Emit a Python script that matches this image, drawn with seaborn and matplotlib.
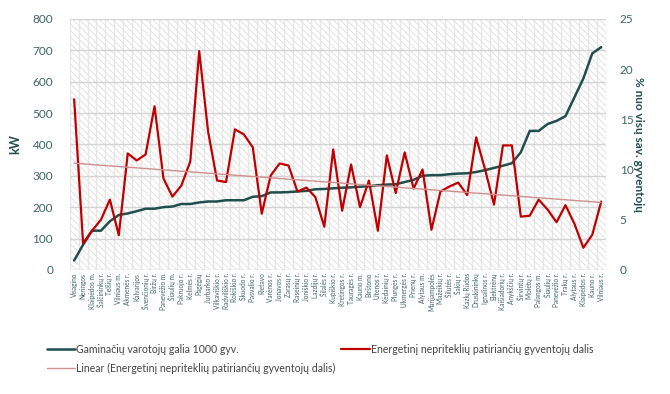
import numpy as np
import pandas as pd
import matplotlib
matplotlib.use("Agg")
import matplotlib.pyplot as plt
import seaborn as sns
from matplotlib.patches import Rectangle

municipalities = [
    "Visagino", "Neringos", "Klaipėdos m.", "Šalčininkų r.", "Telšių r.", "Vilniaus m.",
    "Akmenės r.", "Kalvarijos", "Švenčionių r.", "Biržų r.", "Panevėžio m.", "Šiaulių m.",
    "Pakruojo r.", "Kelmės r.", "Pagėgių", "Jurbarko r.", "Vilkaviškio r.", "Radviliškio r.",
    "Rokiškio r.", "Skuodo r.", "Pasvalio r.", "Rietavo", "Varėnos r.", "Jonavos r.",
    "Zarasų r.", "Raseinių r.", "Joniškio r.", "Lazdijų r.", "Šilalės r.", "Kupiškio r.",
    "Kretingos r.", "Tauragės r.", "Kauno m.", "Birštono", "Utenos r.", "Kėdainių r.",
    "Plungės r.", "Ukmergės r.", "Prienų r.", "Alytaus m.", "Marijampolės", "Mažeikių r.",
    "Šilutės r.", "Šakių r.", "Kazlų Rūdos", "Druskininkų", "Ignalinos r.", "Elektrėnų",
    "Kaišiadorių r.", "Anykščių r.", "Širvintų r.", "Molėtų r.", "Palangos m.", "Šiaulių r.",
    "Panevėžio r.", "Trakų r.", "Alytaus r.", "Klaipėdos r.", "Kauno r.", "Vilniaus r.",
]

power_kw = [
    30, 80, 125, 125, 155, 175, 180, 187, 195, 195, 200, 202,
    210, 210, 215, 218, 218, 222, 222, 222, 233, 235, 247, 247,
    248, 250, 252, 257, 258, 260, 262, 263, 265, 267, 270, 272,
    273, 280, 287, 300, 302, 302, 305, 307, 308, 312, 318, 325,
    332, 340, 375, 443, 443, 465, 475, 490, 550, 610, 690, 710,
]

poverty_pct = [
    17.0, 2.65, 3.9, 5.0, 7.0, 3.45, 11.6, 10.9, 11.5, 16.3, 9.1, 7.3,
    8.4, 10.8, 21.8, 13.75, 8.9, 8.75, 14.0, 13.5, 12.2, 5.6, 9.4, 10.6,
    10.4, 7.8, 8.2, 7.25, 4.3, 12.0, 5.9, 10.5, 6.25, 8.9, 3.9, 11.4,
    7.65, 11.7, 8.1, 10.0, 4.0, 7.8, 8.3, 8.7, 7.45, 13.2, 10.0, 6.5,
    12.4, 12.4, 5.3, 5.4, 7.0, 6.0, 4.75, 6.45, 4.6, 2.2, 3.5, 6.8,
]

label_power = "Gaminačių varotojų galia 1000 gyv."
label_pov = "Energetinį nepriteklių patiriančių gyventojų dalis"
label_trend = "Linear (Energetinį nepriteklių patiriančių gyventojų dalis)"

df = pd.DataFrame({"idx": np.arange(len(municipalities)), "name": municipalities,
                   "kw": power_kw, "pct": poverty_pct})

sns.set_theme(style="white")
plt.rcParams["font.family"] = ["Lato", "DejaVu Sans"]
plt.rcParams["hatch.linewidth"] = 0.6

teal = "#1f4e4d"
txt = "#3d6464"
red = "#c00000"
trend_c = "#cf8f8f"

fig = plt.figure(figsize=(6.7, 3.94), dpi=100)
ax = fig.add_axes([0.104, 0.315, 0.80, 0.637])
ax2 = ax.twinx()

# hatched background
ax.add_patch(Rectangle((0, 0), 1, 1, transform=ax.transAxes, facecolor="white",
                       edgecolor="#dedede", hatch="\\\\\\\\\\", lw=0, zorder=0))
n = len(municipalities)
for b in np.arange(-0.5, n, 1.0):
    ax.axvline(b, color="#e6e6e6", lw=1.0, zorder=0.5)
for yv in range(0, 801, 100):
    ax.axhline(yv, color="#d4d4d4", lw=1.0, zorder=0.6)

sns.lineplot(data=df, x="idx", y="kw", ax=ax, color=teal, lw=1.8, legend=False)
h_power = ax.lines[-1]
sns.lineplot(data=df, x="idx", y="pct", ax=ax2, color=red, lw=1.6, legend=False)
h_pov = ax2.lines[-1]

coef = np.polyfit(df["idx"], df["pct"], 1)
trend = np.polyval(coef, df["idx"])
h_trend, = ax2.plot(df["idx"], trend, color=trend_c, lw=1.0)

ax.set_xlim(-0.5, n - 0.5)
ax.set_ylim(0, 800)
ax2.set_ylim(0, 25)
ax.set_yticks(range(0, 801, 100))
ax2.set_yticks(range(0, 26, 5))
ax.set_xticks(df["idx"])
ax.set_xticklabels(municipalities, rotation=90, fontsize=4.7, color=txt)
ax.tick_params(axis="x", length=0, pad=2)
ax.tick_params(axis="y", length=0, labelsize=8.5, labelcolor=txt, pad=12)
ax2.tick_params(axis="y", length=0, labelsize=8.5, labelcolor=txt, pad=10)
ax.set_xlabel("")
ax.set_ylabel("kW", fontsize=9, color=teal, fontweight="bold", labelpad=8)
ax2.set_ylabel("% nuo visų sav. gyventojų", fontsize=8.5, color=teal, fontweight="bold",
               rotation=270, labelpad=8)
for a in (ax, ax2):
    for s in a.spines.values():
        s.set_visible(False)

handles = [h_power, h_trend, h_pov]
labels = [label_power, label_trend, label_pov]
fig.legend(handles, labels, loc="upper left", bbox_to_anchor=(0.07, 0.128), ncol=2,
           frameon=False, fontsize=7.6, handlelength=2.7, handletextpad=0.1,
           columnspacing=0.5, labelcolor="#444444", borderaxespad=0, borderpad=0,
           labelspacing=0.75)

fig.savefig("out.png", dpi=100)
